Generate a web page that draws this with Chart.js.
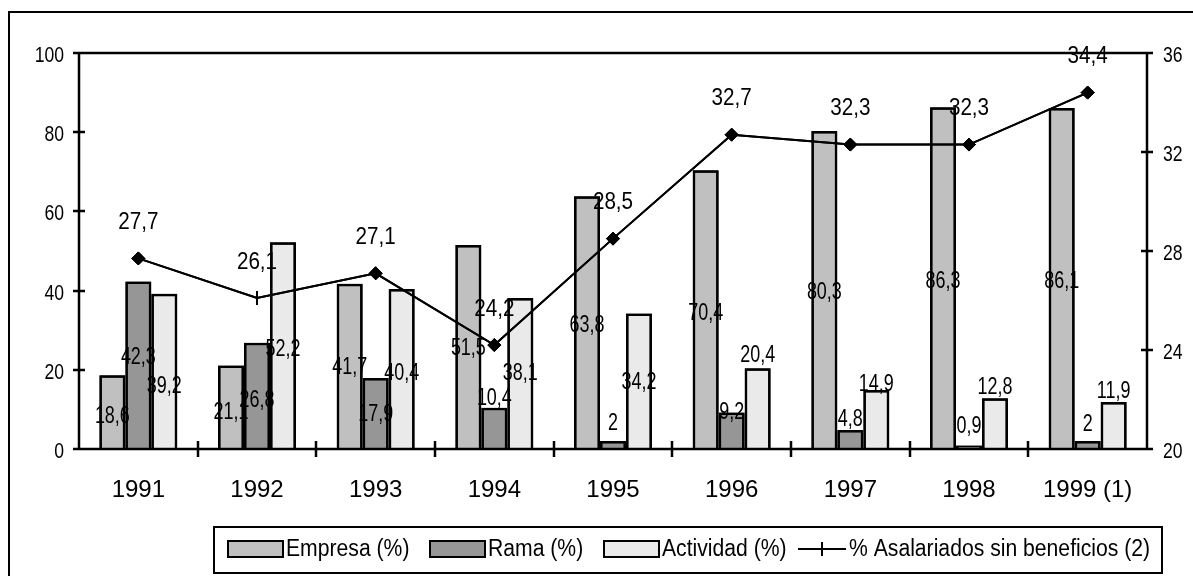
<!DOCTYPE html>
<html><head><meta charset="utf-8">
<script src="https://cdn.jsdelivr.net/npm/chart.js@4/dist/chart.umd.min.js"></script>
<style>
html,body{margin:0;padding:0;background:#fff;overflow:hidden;}
#wrap{position:relative;width:1193px;height:576px;overflow:hidden;}
#frame{position:absolute;left:8px;top:11px;width:1300px;height:700px;border:2px solid #000;box-sizing:border-box;}
canvas{position:absolute;left:0;top:0;}
</style></head><body>
<div id="wrap"><div id="frame"></div><canvas id="c" width="1193" height="576"></canvas></div>
<script>
// ---- data ----
const categories = ['1991','1992','1993','1994','1995','1996','1997','1998','1999 (1)'];
const empresa    = [18.6, 21.1, 41.7, 51.5, 63.8, 70.4, 80.3, 86.3, 86.1];
const rama       = [42.3, 26.8, 17.9, 10.4, 2, 9.2, 4.8, 0.9, 2];
const actividad  = [39.2, 52.2, 40.4, 38.1, 34.2, 20.4, 14.9, 12.8, 11.9];
const asalariados = [27.7, 26.1, 27.1, 24.2, 28.5, 32.7, 32.3, 32.3, 34.4];
// where each bar's value label sits (left-axis units)
const empresaLabelAt   = [8.1, 9.3, 20.5, 25.3, 31.1, 34.3, 39.4, 42.2, 42.2];
const ramaLabelAt      = [23.0, 12.1, 8.6, 12.6, 6.3, 9.1, 7.3, 5.6, 6.1];
const actividadLabelAt = [15.7, 25.0, 18.9, 18.9, 16.7, 23.5, 16.2, 15.4, 14.4];
const leftTicks  = [0, 20, 40, 60, 80, 100];
const rightTicks = [20, 24, 28, 32, 36];
const seriesNames = ['Empresa (%)', 'Rama (%)', 'Actividad (%)', '% Asalariados sin beneficios (2)'];

const REG = "'Liberation Sans',Arial,sans-serif";
const fmt = v => String(v).replace('.', ',');

// condensed text (Arial-Narrow-like) by squeezing Liberation Sans horizontally
function narrowText(ctx, text, x, y, size, sx, align) {
  ctx.save();
  ctx.translate(x, y);
  ctx.scale(sx, 1);
  ctx.font = size + 'px ' + REG;
  ctx.textAlign = align;
  ctx.textBaseline = 'middle';
  ctx.fillStyle = '#000';
  ctx.fillText(text, 0, 0);
  ctx.restore();
}

const axesPlugin = {
  id: 'axesPlugin',
  afterDatasetsDraw(chart) {
    const {ctx, chartArea: a, scales} = chart;
    // axis frame and crossing tick marks
    ctx.save();
    ctx.strokeStyle = '#000';
    ctx.lineWidth = 2.5;
    ctx.beginPath();
    ctx.moveTo(a.left, a.bottom); ctx.lineTo(a.left, a.top); ctx.lineTo(a.right, a.top); ctx.lineTo(a.right, a.bottom); ctx.lineTo(a.left, a.bottom);
    leftTicks.forEach(v => { const y = Math.round(scales.y.getPixelForValue(v)); ctx.moveTo(a.left - 6, y); ctx.lineTo(a.left + 6, y); });
    rightTicks.forEach(v => { const y = Math.round(scales.y1.getPixelForValue(v)); ctx.moveTo(a.right - 6, y); ctx.lineTo(a.right + 6, y); });
    const step = scales.x.getPixelForValue(1) - scales.x.getPixelForValue(0);
    for (let i = 1; i < categories.length; i++) {
      const x = Math.round(scales.x.getPixelForValue(i) - step / 2);
      ctx.moveTo(x, a.bottom - 8); ctx.lineTo(x, a.bottom + 8);
    }
    ctx.stroke();
    ctx.restore();

    // bar value labels
    const labelSets = [empresaLabelAt, ramaLabelAt, actividadLabelAt];
    [0, 1, 2].forEach(d => {
      chart.getDatasetMeta(d).data.forEach((el, i) => {
        narrowText(ctx, fmt(chart.data.datasets[d].data[i]), el.x, scales.y.getPixelForValue(labelSets[d][i]), 23, 0.78, 'center');
      });
    });
    // bar outlines over the labels (as in the original)
    [0, 1, 2].forEach(d => {
      chart.getDatasetMeta(d).data.forEach(el => {
        const orig = el.options;
        el.options = Object.assign({}, orig, {backgroundColor: 'rgba(0,0,0,0)'});
        el.draw(ctx);
        el.options = orig;
      });
    });
    // line on top
    const lm = chart.getDatasetMeta(3);
    lm.controller.draw();
    lm.data.forEach((el, i) => {
      narrowText(ctx, fmt(asalariados[i]), el.x, el.y - 36, 24, 0.86, 'center');
    });
  },
  afterDraw(chart) {
    const {ctx, chartArea: a, scales} = chart;
    // axis tick labels
    leftTicks.forEach(v => narrowText(ctx, String(v), a.left - 15, scales.y.getPixelForValue(v) + 3, 22, 0.8, 'right'));
    rightTicks.forEach(v => narrowText(ctx, String(v), a.right + 16, scales.y1.getPixelForValue(v) + 3, 22, 0.8, 'left'));
    // legend
    ctx.save();
    ctx.lineWidth = 2;
    ctx.strokeStyle = '#000';
    ctx.strokeRect(214, 527, 948, 46);
    const starts = [228, 430, 604, 798];
    const ly = 549;
    chart.data.datasets.forEach((ds, d) => {
      const x = starts[d];
      if (d < 3) {
        ctx.fillStyle = ds.backgroundColor;
        ctx.fillRect(x, ly - 8, 55, 16);
        ctx.strokeRect(x, ly - 8, 55, 16);
        narrowText(ctx, ds.label, x + 58, ly + 1, 23, 0.92, 'left');
      } else {
        ctx.beginPath();
        ctx.moveTo(x, ly); ctx.lineTo(x + 48, ly);
        ctx.moveTo(x + 24, ly - 7); ctx.lineTo(x + 24, ly + 7);
        ctx.stroke();
        narrowText(ctx, ds.label, x + 51, ly + 1, 23, 0.92, 'left');
      }
    });
    ctx.restore();
  }
};

const barCommon = {
  type: 'bar', yAxisID: 'y', borderColor: '#000', borderWidth: 2.5,
  categoryPercentage: 0.657, barPercentage: 1, order: 1
};

new Chart(document.getElementById('c'), {
  data: {
    labels: categories,
    datasets: [
      Object.assign({label: seriesNames[0], data: empresa, backgroundColor: '#C0C0C0'}, barCommon),
      Object.assign({label: seriesNames[1], data: rama, backgroundColor: '#969696'}, barCommon),
      Object.assign({label: seriesNames[2], data: actividad, backgroundColor: '#EAEAEA'}, barCommon),
      {
        type: 'line', label: seriesNames[3], data: asalariados, yAxisID: 'y1', order: 0,
        borderColor: '#000', borderWidth: 2, tension: 0, fill: false,
        pointStyle: asalariados.map((v, i) => i === 1 ? 'line' : 'rectRot'),
        pointRotation: asalariados.map((v, i) => i === 1 ? 90 : 0),
        pointRadius: asalariados.map((v, i) => i === 1 ? 7 : 6.5),
        pointBorderWidth: asalariados.map((v, i) => i === 1 ? 2 : 1),
        pointBackgroundColor: '#000', pointBorderColor: '#000'
      }
    ]
  },
  options: {
    responsive: false, animation: false, devicePixelRatio: 1,
    layout: {padding: {top: 53, left: 0, right: 0, bottom: 0}},
    plugins: {legend: {display: false}, tooltip: {enabled: false}, title: {display: false}},
    scales: {
      x: {
        offset: true, grid: {display: false, drawTicks: false}, border: {display: false},
        ticks: {font: {family: REG, size: 24}, color: '#000', padding: 27, maxRotation: 0, autoSkip: false},
        afterFit(s) { s.height = 127; }
      },
      y: {
        position: 'left', min: 0, max: 100, grid: {display: false, drawTicks: false}, border: {display: false},
        ticks: {display: false},
        afterBuildTicks(s) { s.ticks = leftTicks.map(v => ({value: v})); },
        afterFit(s) { s.width = 79; }
      },
      y1: {
        position: 'right', min: 20, max: 36, grid: {display: false, drawTicks: false}, border: {display: false},
        ticks: {display: false},
        afterBuildTicks(s) { s.ticks = rightTicks.map(v => ({value: v})); },
        afterFit(s) { s.width = 46; }
      }
    }
  },
  plugins: [axesPlugin]
});
</script>
</body></html>
